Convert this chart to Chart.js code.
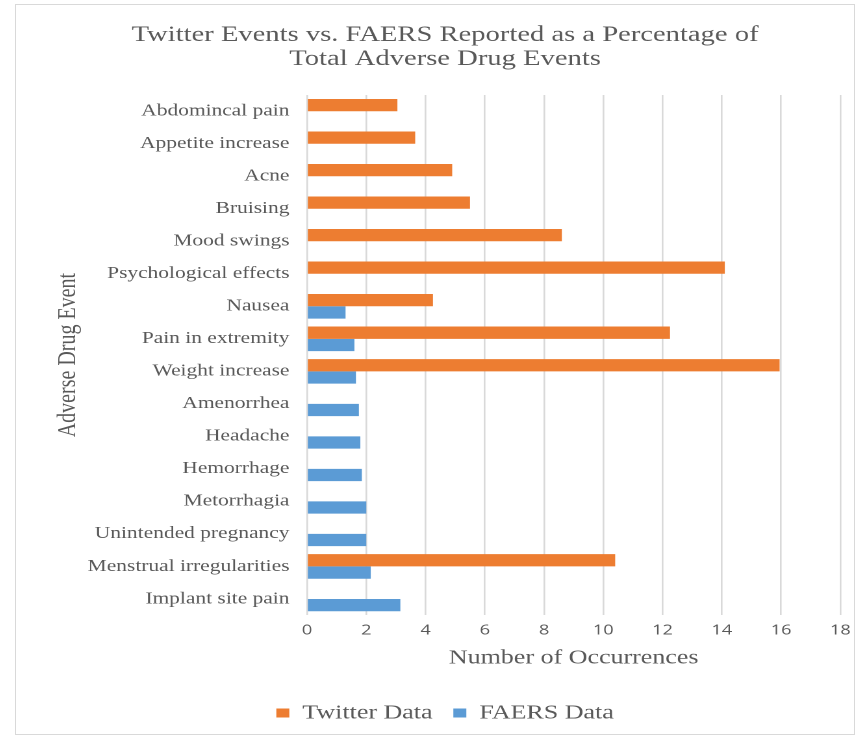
<!DOCTYPE html>
<html>
<head>
<meta charset="utf-8">
<script src="https://cdn.jsdelivr.net/npm/chart.js@4/dist/chart.umd.min.js"></script>
<style>
  html, body { margin: 0; padding: 0; background: #ffffff; }
  #frame {
    position: absolute; left: 15px; top: 4px;
    width: 840px; height: 731px;
    border: 1px solid #d9d9d9; box-sizing: border-box;
  }
  /* the source picture is stretched sideways, so the canvas is too */
  #adeChart { display: block; width: 838px !important; height: 729px !important; }
</style>
</head>
<body>
<div id="frame"><canvas id="adeChart" width="645" height="729" style="width:838px;height:729px"></canvas></div>
<script>
// categories, top to bottom
const eventLabels = [
    'Abdomincal pain', 'Appetite increase', 'Acne', 'Bruising', 'Mood swings',
    'Psychological effects', 'Nausea', 'Pain in extremity', 'Weight increase',
    'Amenorrhea', 'Headache', 'Hemorrhage', 'Metorrhagia', 'Unintended pregnancy',
    'Menstrual irregularities', 'Implant site pain'
];
const twitterData = [3.05, 3.65, 4.9, 5.5, 8.6, 14.1, 4.25, 12.25, 15.95, null, null, null, null, null, 10.4, null];
const faersData   = [null, null, null, null, null, null, 1.3, 1.6, 1.65, 1.75, 1.8, 1.85, 2.0, 2.0, 2.15, 3.15];
const xTicks = [0, 2, 4, 6, 8, 10, 12, 14, 16, 18];

const greyText = '#595959';
const serif = "'Liberation Serif', 'Times New Roman', serif";
const sans = "'Open Sans', 'Liberation Sans', sans-serif";

document.addEventListener('DOMContentLoaded', () => {
    const ctx = document.getElementById('adeChart').getContext('2d');
    new Chart(ctx, {
        type: 'bar',
        data: {
            labels: eventLabels,
            datasets: [
                { label: 'Twitter Data', data: twitterData, backgroundColor: '#ED7D31', barPercentage: 1.0, categoryPercentage: 0.755 },
                { label: 'FAERS Data', data: faersData, backgroundColor: '#5B9BD5', barPercentage: 1.0, categoryPercentage: 0.755 }
            ]
        },
        options: {
            indexAxis: 'y',
            responsive: false,
            animation: false,
            devicePixelRatio: 2,
            layout: { padding: { left: 26, right: 10.5, top: 18, bottom: 1 } },
            plugins: {
                title: {
                    display: true,
                    text: ['Twitter Events vs. FAERS Reported as a Percentage of', 'Total Adverse Drug Events'],
                    color: greyText,
                    font: { family: serif, size: 22, weight: 'normal', lineHeight: 1.09 },
                    padding: { top: 0, bottom: 24 }
                },
                legend: {
                    position: 'bottom',
                    labels: {
                        color: greyText,
                        font: { family: serif, size: 20 },
                        boxWidth: 10, boxHeight: 9, padding: 16
                    }
                },
                tooltip: { enabled: false }
            },
            scales: {
                x: {
                    min: 0, max: 18,
                    afterBuildTicks: axis => { axis.ticks = xTicks.map(v => ({ value: v })); },
                    // the last tick label may hang past the plot edge, as in the source
                    afterFit: axis => { axis.paddingRight = 0; },
                    grid: { color: '#d9d9d9', lineWidth: 1.3, drawTicks: false },
                    border: { display: false },
                    ticks: { color: greyText, font: { family: sans, size: 14 }, padding: 7 },
                    title: {
                        display: true, text: 'Number of Occurrences', color: greyText,
                        font: { family: serif, size: 20 }, padding: { top: 0, bottom: 17 }
                    }
                },
                y: {
                    afterFit: axis => { axis.width = 198; },
                    grid: { display: false },
                    border: { display: false },
                    ticks: { color: greyText, font: { family: serif, size: 16.5 }, padding: 5.5 },
                    title: {
                        display: true, text: 'Adverse Drug Event', color: greyText,
                        font: { family: serif, size: 20 }, padding: { top: 2, bottom: 0 }
                    }
                }
            }
        }
    });
});
</script>
</body>
</html>
